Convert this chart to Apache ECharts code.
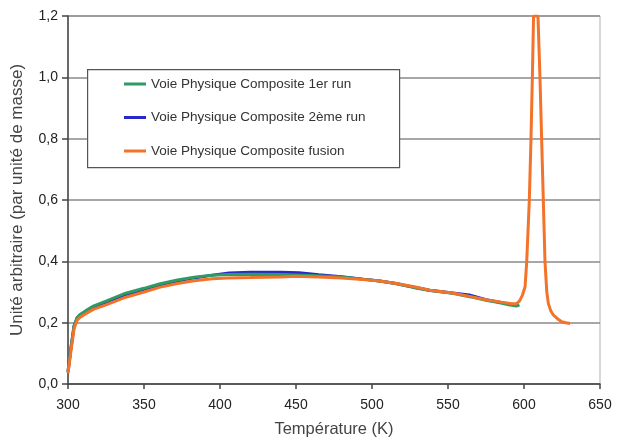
<!DOCTYPE html>
<html>
<head>
<meta charset="utf-8">
<script src="https://cdn.jsdelivr.net/npm/echarts@6/dist/echarts.min.js"></script>
<style>html,body{margin:0;padding:0;background:#fff;}#c{width:623px;height:439px;}</style>
</head>
<body>
<div id="c"></div>
<script>
// Temperatures (K) and values (arbitrary units per mass)
const run1Temp = [300, 302, 304, 306, 308, 312, 317, 325, 338, 350, 360, 372, 383, 395, 405, 420, 440, 460, 480, 494, 505, 516, 527, 538, 553, 565, 575, 585, 590, 595, 597];
const run1Vals = [0.04, 0.12, 0.19, 0.217, 0.227, 0.240, 0.255, 0.270, 0.296, 0.312, 0.326, 0.339, 0.348, 0.355, 0.357, 0.358, 0.357, 0.354, 0.349, 0.342, 0.336, 0.327, 0.315, 0.305, 0.296, 0.284, 0.273, 0.264, 0.258, 0.254, 0.258];

const run2Temp = [300, 302, 304, 306, 308, 312, 317, 325, 338, 350, 360, 372, 383, 395, 406, 420, 440, 452, 465, 480, 494, 505, 516, 527, 538, 553, 564, 575, 585, 590, 596];
const run2Vals = [0.04, 0.12, 0.19, 0.215, 0.225, 0.238, 0.252, 0.267, 0.292, 0.309, 0.323, 0.336, 0.346, 0.355, 0.362, 0.364, 0.364, 0.363, 0.356, 0.350, 0.342, 0.336, 0.328, 0.316, 0.306, 0.297, 0.290, 0.275, 0.266, 0.260, 0.258];

const fusionTemp = [300, 302, 304, 306, 308, 312, 317, 325, 338, 350, 360, 372, 383, 395, 405, 420, 440, 450, 465, 480, 494, 505, 516, 527, 538, 553, 565, 575, 585, 592, 595, 597, 599, 600.7, 601.8, 603.5, 604.6, 605.5, 606.3, 609.2, 610.5, 611.6, 612.7, 613.8, 615, 616, 617.5, 619.3, 622, 624.8, 627.5, 630.3];
const fusionVals = [0.035, 0.11, 0.18, 0.208, 0.218, 0.230, 0.244, 0.258, 0.283, 0.300, 0.315, 0.328, 0.337, 0.343, 0.346, 0.347, 0.349, 0.351, 0.349, 0.346, 0.341, 0.336, 0.328, 0.318, 0.306, 0.297, 0.285, 0.275, 0.267, 0.262, 0.262, 0.270, 0.290, 0.317, 0.400, 0.600, 0.800, 1.000, 1.200, 1.200, 1.000, 0.800, 0.600, 0.400, 0.300, 0.263, 0.240, 0.225, 0.213, 0.203, 0.200, 0.197];

const seriesNames = ['Voie Physique Composite 1er run', 'Voie Physique Composite 2ème run', 'Voie Physique Composite fusion'];
const xTicks = [300, 350, 400, 450, 500, 550, 600, 650];
const yTicks = [0, 0.2, 0.4, 0.6, 0.8, 1.0, 1.2];

const pairs = (t, v) => t.map((x, i) => [x, v[i]]);
const colors = ['#2e9a64', '#2828c8', '#f27329'];
const font = 'Liberation Sans, Arial, sans-serif';

const chart = echarts.init(document.getElementById('c'), null, {renderer: 'canvas'});
chart.setOption({
  animation: false,
  backgroundColor: '#fff',
  grid: {left: 68, right: 23, top: 16, bottom: 55, containLabel: false, outerBoundsMode: 'none',
    show: true, borderColor: '#b0b0b0', borderWidth: 1, backgroundColor: 'transparent'},
  graphic: [{
    type: 'rect', left: 87, top: 69, z: 50,
    shape: {width: 312, height: 98},
    style: {fill: '#fff', stroke: '#555', lineWidth: 1.2}
  }],
  legend: {
    orient: 'vertical', left: 119, top: 72, z: 60,
    icon: 'rect', itemWidth: 22, itemHeight: 3, itemGap: 19.5,
    textStyle: {fontFamily: font, fontSize: 13.5, color: '#333'},
    data: seriesNames.map((n, i) => ({name: n, itemStyle: {color: colors[i]}}))
  },
  xAxis: {
    type: 'value', min: 300, max: 650, interval: 50,
    name: 'Température (K)', nameLocation: 'middle', nameGap: 37,
    nameTextStyle: {fontFamily: font, fontSize: 16.5, color: '#444'},
    axisLine: {lineStyle: {color: '#444', width: 1.5}},
    axisTick: {show: true, length: 5, lineStyle: {color: '#444', width: 1.5}},
    axisLabel: {fontFamily: font, fontSize: 14, color: '#222', margin: 14, formatter: v => xTicks.includes(v) ? String(v) : ''},
    splitLine: {show: false}
  },
  yAxis: {
    type: 'value', min: 0, max: 1.2, interval: 0.2,
    name: 'Unité arbitraire (par unité de masse)', nameLocation: 'middle', nameGap: 42,
    nameTextStyle: {fontFamily: font, fontSize: 17, color: '#444'},
    axisLine: {show: true, lineStyle: {color: '#444', width: 1.5}},
    axisTick: {show: true, length: 6, lineStyle: {color: '#444', width: 1.5}},
    axisLabel: {fontFamily: font, fontSize: 14, color: '#222', margin: 10,
      formatter: v => { const t = yTicks.find(y => Math.abs(y - v) < 1e-6); return t === undefined ? '' : t.toFixed(1).replace('.', ','); }},
    splitLine: {show: true, lineStyle: {color: '#8a8a8a', width: 1.6}}
  },
  series: [
    {name: seriesNames[0], type: 'line', symbol: 'none', data: pairs(run1Temp, run1Vals), lineStyle: {color: colors[0], width: 3}, itemStyle: {color: colors[0]}, z: 4},
    {name: seriesNames[1], type: 'line', symbol: 'none', data: pairs(run2Temp, run2Vals), lineStyle: {color: colors[1], width: 3}, itemStyle: {color: colors[1]}, z: 3},
    {name: seriesNames[2], type: 'line', symbol: 'none', data: pairs(fusionTemp, fusionVals), lineStyle: {color: colors[2], width: 3}, itemStyle: {color: colors[2]}, z: 5}
  ]
});
</script>
</body>
</html>
